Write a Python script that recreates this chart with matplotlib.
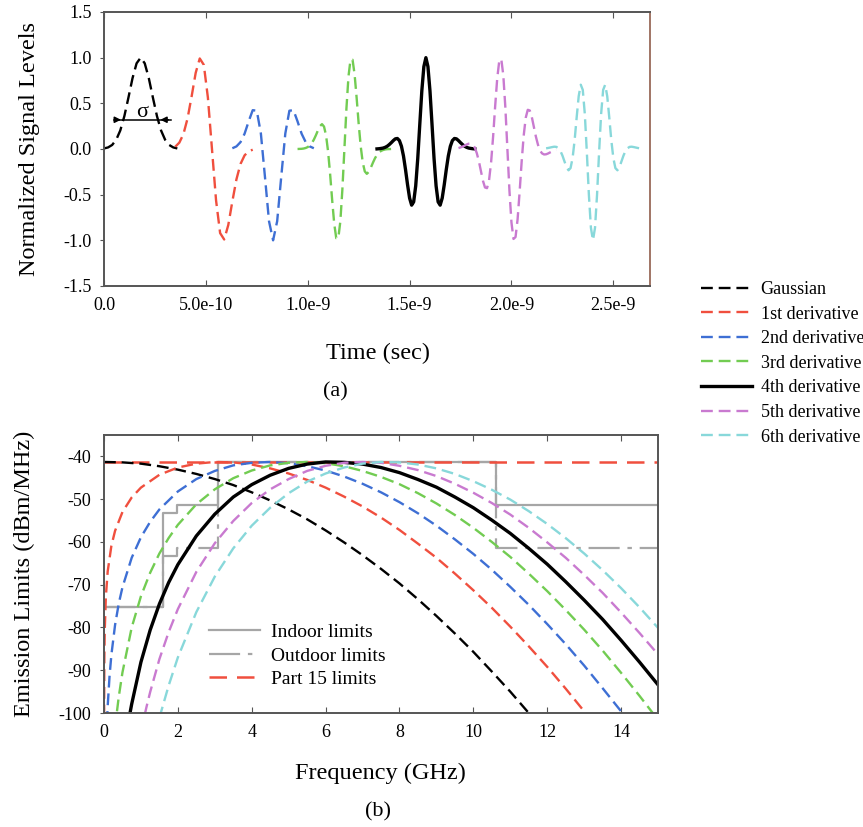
# plot.py - UWB pulse shapes and their spectra against FCC masks

import numpy as np
import matplotlib.pyplot as plt
from matplotlib.lines import Line2D

plt.rcParams['font.family'] = ['Liberation Serif', 'DejaVu Serif']
plt.rcParams['axes.unicode_minus'] = False

# ---------------- (a) time domain, time in ns ----------------
t_gauss = [0.00, 0.02, 0.04, 0.06, 0.08, 0.10, 0.12, 0.14, 0.16, 0.18, 0.20, 0.22, 0.24, 0.26, 0.28,
           0.30, 0.32, 0.34, 0.36]
v_gauss = [0.006, 0.017, 0.044, 0.101, 0.203, 0.360, 0.563, 0.775, 0.938, 1.0, 0.938, 0.775, 0.563,
           0.360, 0.203, 0.101, 0.044, 0.017, 0.006]

t_d1 = [0.35, 0.37, 0.39, 0.41, 0.43, 0.45, 0.47, 0.49, 0.51, 0.53, 0.55, 0.57, 0.59, 0.61, 0.63,
        0.65, 0.67, 0.69, 0.71, 0.73]
v_d1 = [0.025, 0.070, 0.164, 0.333, 0.574, 0.833, 0.991, 0.921, 0.562, 0.0, -0.562, -0.921, -0.991,
        -0.833, -0.574, -0.333, -0.164, -0.070, -0.025, -0.008]

t_d2 = [0.63, 0.65, 0.67, 0.69, 0.71, 0.73, 0.75, 0.77, 0.79, 0.81, 0.83, 0.85, 0.87, 0.89, 0.91,
        0.93, 0.95, 0.97, 0.99, 1.01, 1.03]
v_d2 = [0.008, 0.028, 0.075, 0.167, 0.302, 0.425, 0.419, 0.170, -0.304, -0.791, -1.0, -0.791, -0.304,
        0.170, 0.419, 0.425, 0.302, 0.167, 0.075, 0.028, 0.008]

t_d3 = [0.95, 0.96, 0.97, 0.98, 0.99, 1.00, 1.01, 1.02, 1.03, 1.04, 1.05, 1.06, 1.07, 1.08, 1.09,
        1.10, 1.11, 1.12, 1.13, 1.14, 1.15, 1.16, 1.17, 1.18, 1.19, 1.20, 1.21, 1.22, 1.23, 1.24,
        1.25, 1.26, 1.27, 1.28, 1.29, 1.30, 1.31, 1.32, 1.33, 1.34, 1.35, 1.36, 1.37, 1.38, 1.39,
        1.40, 1.41]
v_d3 = [0.0, 0.001, 0.002, 0.005, 0.011, 0.021, 0.038, 0.064, 0.102, 0.150, 0.203, 0.250, 0.272,
        0.245, 0.148, -0.030, -0.278, -0.561, -0.818, -0.977, -0.978, -0.794, -0.445, 0.0, 0.445,
        0.794, 0.978, 0.977, 0.818, 0.561, 0.278, 0.030, -0.148, -0.245, -0.272, -0.250, -0.203,
        -0.150, -0.102, -0.064, -0.038, -0.021, -0.011, -0.005, -0.002, -0.001, 0.0]

t_d4 = [1.34, 1.35, 1.36, 1.37, 1.38, 1.39, 1.40, 1.41, 1.42, 1.43, 1.44, 1.45, 1.46, 1.47, 1.48,
        1.49, 1.50, 1.51, 1.52, 1.53, 1.54, 1.55, 1.56, 1.57, 1.58, 1.59, 1.60, 1.61, 1.62, 1.63,
        1.64, 1.65, 1.66, 1.67, 1.68, 1.69, 1.70, 1.71, 1.72, 1.73, 1.74, 1.75, 1.76, 1.77, 1.78,
        1.79, 1.80, 1.81, 1.82]
v_d4 = [0.001, 0.003, 0.006, 0.010, 0.018, 0.030, 0.048, 0.069, 0.092, 0.111, 0.115, 0.092, 0.030,
        -0.077, -0.226, -0.392, -0.538, -0.615, -0.579, -0.404, -0.104, 0.270, 0.636, 0.902, 1.0,
        0.902, 0.636, 0.270, -0.104, -0.404, -0.579, -0.615, -0.538, -0.392, -0.226, -0.077, 0.030,
        0.092, 0.115, 0.111, 0.092, 0.069, 0.048, 0.030, 0.018, 0.010, 0.006, 0.003, 0.001]

t_d5 = [1.74, 1.75, 1.76, 1.77, 1.78, 1.79, 1.80, 1.81, 1.82, 1.83, 1.84, 1.85, 1.86, 1.87, 1.88,
        1.89, 1.90, 1.91, 1.92, 1.93, 1.94, 1.95, 1.96, 1.97, 1.98, 1.99, 2.00, 2.01, 2.02, 2.03,
        2.04, 2.05, 2.06, 2.07, 2.08, 2.09, 2.10, 2.11, 2.12, 2.13, 2.14, 2.15, 2.16, 2.17, 2.18,
        2.19, 2.20, 2.21, 2.22]
v_d5 = [0.010, 0.017, 0.026, 0.037, 0.049, 0.058, 0.060, 0.048, 0.015, -0.047, -0.134, -0.241,
        -0.348, -0.421, -0.429, -0.342, -0.146, 0.139, 0.470, 0.771, 0.964, 0.985, 0.806, 0.454, 0.0,
        -0.454, -0.806, -0.985, -0.964, -0.771, -0.470, -0.139, 0.146, 0.342, 0.429, 0.421, 0.348,
        0.241, 0.134, 0.047, -0.015, -0.048, -0.060, -0.058, -0.049, -0.037, -0.026, -0.017, -0.010]

t_d6 = [2.17, 2.18, 2.19, 2.20, 2.21, 2.22, 2.23, 2.24, 2.25, 2.26, 2.27, 2.28, 2.29, 2.30, 2.31,
        2.32, 2.33, 2.34, 2.35, 2.36, 2.37, 2.38, 2.39, 2.40, 2.41, 2.42, 2.43, 2.44, 2.45, 2.46,
        2.47, 2.48, 2.49, 2.50, 2.51, 2.52, 2.53, 2.54, 2.55, 2.56, 2.57, 2.58, 2.59, 2.60, 2.61,
        2.62, 2.63]
v_d6 = [0.007, 0.011, 0.016, 0.021, 0.025, 0.023, 0.009, -0.021, -0.071, -0.135, -0.198, -0.233,
        -0.209, -0.099, 0.096, 0.346, 0.578, 0.704, 0.647, 0.383, -0.039, -0.503, -0.864, -1.0,
        -0.864, -0.503, -0.039, 0.383, 0.647, 0.704, 0.578, 0.346, 0.096, -0.099, -0.209, -0.233,
        -0.198, -0.135, -0.071, -0.021, 0.009, 0.023, 0.025, 0.021, 0.016, 0.011, 0.007]

# ---------------- (b) spectra, frequency in GHz, level in dBm/MHz ----------------
f_gauss = [0, 0.5, 1, 1.5, 2, 2.5, 3, 3.5, 4, 4.5, 5, 5.5, 6, 6.5, 7, 7.5, 8, 8.5, 9, 9.5, 10, 10.5,
           11, 11.5, 12]
s_gauss = [-41.3, -41.4, -41.7, -42.3, -43.1, -44.1, -45.3, -46.7, -48.4, -50.3, -52.4, -54.7, -57.3,
           -60.1, -63.1, -66.3, -69.7, -73.4, -77.3, -81.4, -85.7, -90.3, -95.0, -100.0, -105.2]

f_d1 = [0.002, 0.01, 0.02, 0.05, 0.1, 0.2, 0.3, 0.5, 0.75, 1.0, 1.5, 2, 2.5, 3, 3.5, 4, 4.5, 5, 5.5,
        6, 6.5, 7, 7.5, 8, 8.5, 9, 9.5, 10, 10.5, 11, 11.5, 12, 12.5, 13, 13.5]
s_d1 = [-100.8, -86.9, -80.8, -72.9, -66.9, -60.9, -57.4, -53.0, -49.6, -47.3, -44.3, -42.6, -41.7,
        -41.3, -41.4, -41.9, -42.8, -44.0, -45.5, -47.3, -49.4, -51.7, -54.3, -57.2, -60.4, -63.7,
        -67.4, -71.3, -75.4, -79.8, -84.4, -89.2, -94.3, -99.6, -105.2]

f_d2 = [0.08, 0.1, 0.15, 0.2, 0.3, 0.4, 0.5, 0.75, 1.0, 1.25, 1.5, 2, 2.5, 3, 3.5, 4, 4.5, 5, 5.5,
        6, 6.5, 7, 7.5, 8, 8.5, 9, 9.5, 10, 10.5, 11, 11.5, 12, 12.5, 13, 13.5, 14, 14.5]
s_d2 = [-102.3, -98.4, -91.4, -86.4, -79.4, -74.4, -70.6, -63.7, -58.9, -55.3, -52.4, -48.2, -45.3,
        -43.4, -42.1, -41.5, -41.3, -41.6, -42.3, -43.3, -44.7, -46.4, -48.4, -50.7, -53.3, -56.2,
        -59.4, -62.8, -66.5, -70.5, -74.7, -79.2, -83.9, -88.9, -94.2, -99.6, -105.3]

f_d3 = [0.3, 0.35, 0.4, 0.5, 0.75, 1.0, 1.25, 1.5, 1.75, 2, 2.5, 3, 3.5, 4, 4.5, 5, 5.5, 6, 6.5, 7,
        7.5, 8, 8.5, 9, 9.5, 10, 10.5, 11, 11.5, 12, 12.5, 13, 13.5, 14, 14.5, 15]
s_d3 = [-103.7, -99.7, -96.2, -90.5, -80.0, -72.7, -67.2, -62.7, -59.1, -56.0, -51.2, -47.7, -45.1,
        -43.3, -42.1, -41.5, -41.3, -41.6, -42.3, -43.4, -44.8, -46.5, -48.6, -51.0, -53.7, -56.7,
        -60.0, -63.5, -67.4, -71.5, -75.9, -80.5, -85.4, -90.6, -96.0, -101.6]

f_d4 = [0.7, 0.75, 1.0, 1.25, 1.5, 1.75, 2, 2.5, 3, 3.5, 4, 4.5, 5, 5.5, 6, 6.5, 7, 7.5, 8, 8.5, 9,
        9.5, 10, 10.5, 11, 11.5, 12, 12.5, 13, 13.5, 14, 14.5, 15]
s_d4 = [-100.2, -97.9, -88.1, -80.6, -74.5, -69.5, -65.3, -58.6, -53.5, -49.5, -46.6, -44.4, -42.8,
        -41.8, -41.3, -41.4, -41.8, -42.6, -43.8, -45.4, -47.2, -49.5, -52.0, -54.9, -58.0, -61.5,
        -65.2, -69.3, -73.6, -78.1, -83.0, -88.1, -93.4]

f_d5 = [1.1, 1.15, 1.25, 1.5, 1.75, 2, 2.5, 3, 3.5, 4, 4.5, 5, 5.5, 6, 6.5, 7, 7.5, 8, 8.5, 9, 9.5,
        10, 10.5, 11, 11.5, 12, 12.5, 13, 13.5, 14, 14.5, 15]
s_d5 = [-100.5, -98.6, -95.1, -87.4, -81.1, -75.7, -67.0, -60.3, -55.1, -50.9, -47.7, -45.3, -43.4,
        -42.2, -41.5, -41.3, -41.5, -42.2, -43.2, -44.6, -46.4, -48.5, -50.9, -53.6, -56.7, -60.1,
        -63.7, -67.7, -71.9, -76.5, -81.3, -86.3]

f_d6 = [1.5, 1.55, 1.75, 2, 2.5, 3, 3.5, 4, 4.5, 5, 5.5, 6, 6.5, 7, 7.5, 8, 8.5, 9, 9.5, 10, 10.5,
        11, 11.5, 12, 12.5, 13, 13.5, 14, 14.5, 15]
s_d6 = [-101.2, -99.6, -93.6, -87.0, -76.4, -68.1, -61.5, -56.2, -52.0, -48.6, -45.9, -44.0, -42.6,
        -41.7, -41.3, -41.4, -41.9, -42.8, -44.1, -45.8, -47.8, -50.1, -52.8, -55.8, -59.1, -62.7,
        -66.6, -70.8, -75.3, -80.1]

# FCC masks
f_indoor = [0, 1.61, 1.61, 1.99, 1.99, 3.1, 3.1, 10.6, 10.6, 15]
m_indoor = [-75.3, -75.3, -53.3, -53.3, -51.3, -51.3, -41.3, -41.3, -51.3, -51.3]
f_outdoor = [0, 1.61, 1.61, 1.99, 1.99, 3.1, 3.1, 10.6, 10.6, 15]
m_outdoor = [-75.3, -75.3, -63.3, -63.3, -61.3, -61.3, -41.3, -41.3, -61.3, -61.3]
f_part15 = [0, 15]
m_part15 = [-41.3, -41.3]

labels = ['Gaussian', '1st derivative', '2nd derivative', '3rd derivative',
          '4th derivative', '5th derivative', '6th derivative']
colors = ['black', '#f04f3e', '#3e6fd4', '#72cc52', 'black', '#c97ad0', '#88d8da']
dashed = [True, True, True, True, False, True, True]

pulses = [(t_gauss, v_gauss), (t_d1, v_d1), (t_d2, v_d2), (t_d3, v_d3),
          (t_d4, v_d4), (t_d5, v_d5), (t_d6, v_d6)]
spectra = [(f_gauss, s_gauss), (f_d1, s_d1), (f_d2, s_d2), (f_d3, s_d3),
           (f_d4, s_d4), (f_d5, s_d5), (f_d6, s_d6)]

gray = '#a6a6a6'
outdoor_dash = (14, 3.5, 2, 3.5)

fig = plt.figure(figsize=(8.63, 8.27), dpi=100)
ax1 = fig.add_axes([0.1205, 0.6542, 0.6327, 0.3313])
ax2 = fig.add_axes([0.1205, 0.1378, 0.642, 0.3362])

handles = []
for (t, v), c, d, lab in zip(pulses, colors, dashed, labels):
    if d:
        ln, = ax1.plot(np.array(t) * 1e-9, v, color=c, lw=1.7, dashes=(5, 2.5), label=lab)
    else:
        ln, = ax1.plot(np.array(t) * 1e-9, v, color=c, lw=2.4, label=lab)
    handles.append(ln)

# sigma marker on the Gaussian
ax1.plot([0.05e-9, 0.33e-9], [0.32, 0.32], color='black', lw=1.1)
ax1.annotate('', xy=(0.097e-9, 0.32), xytext=(0.05e-9, 0.32),
             arrowprops=dict(arrowstyle='-|>', color='black', lw=1.1, mutation_scale=9))
ax1.annotate('', xy=(0.263e-9, 0.32), xytext=(0.33e-9, 0.32),
             arrowprops=dict(arrowstyle='-|>', color='black', lw=1.1, mutation_scale=9))
ax1.text(0.187e-9, 0.40, 'σ', fontsize=16, ha='center', va='center')

ax1.set_xlim(0, 2.68e-9)
ax1.set_ylim(-1.5, 1.5)
ax1.set_xticks([0, 0.5e-9, 1.0e-9, 1.5e-9, 2.0e-9, 2.5e-9])
ax1.set_xticklabels(['0.0', '5.0e-10', '1.0e-9', '1.5e-9', '2.0e-9', '2.5e-9'])
ax1.set_yticks([-1.5, -1.0, -0.5, 0.0, 0.5, 1.0, 1.5])
ax1.set_yticklabels(['-1.5', '-1.0', '-0.5', '0.0', '0.5', '1.0', '1.5'])

# spectra
ax2.plot(f_indoor, m_indoor, color=gray, lw=1.6)
ax2.plot(f_outdoor, m_outdoor, color=gray, lw=1.6, dashes=outdoor_dash)
ax2.plot(f_part15, m_part15, color='#f04f3e', lw=1.8, dashes=(7, 4))
for (f, s), c, d in zip(spectra, colors, dashed):
    if d:
        ax2.plot(f, s, color=c, lw=1.7, dashes=(5, 2.5))
    else:
        ax2.plot(f, s, color=c, lw=2.4)

ax2.set_xlim(0, 15)
ax2.set_ylim(-100, -35)
ax2.set_xticks([0, 2, 4, 6, 8, 10, 12, 14])
ax2.set_yticks([-40, -50, -60, -70, -80, -90, -100])
ax2.set_yticklabels(['-40', '-50', '-60', '-70', '-80', '-90', '-100'])

mask_handles = [Line2D([], [], color=gray, lw=1.6),
                Line2D([], [], color=gray, lw=1.6, dashes=outdoor_dash),
                Line2D([], [], color='#f04f3e', lw=1.8, dashes=(7, 4))]
ax2.legend(mask_handles, ['Indoor limits', 'Outdoor limits', 'Part 15 limits'],
           loc='lower left', bbox_to_anchor=(0.19, 0.09), frameon=False, fontsize=14,
           handlelength=2.6, handletextpad=0.6, labelspacing=0.3, borderpad=0, borderaxespad=0)

for ax in (ax1, ax2):
    for sp in ax.spines.values():
        sp.set_color('#555555')
        sp.set_linewidth(1.4)
    ax.tick_params(axis='x', direction='in', top=True, length=4, labelsize=13,
                   color='#555555', pad=8)
    ax.tick_params(axis='y', direction='out', length=3, labelsize=13, color='#555555', pad=6)
ax1.spines['right'].set_color('#a07565')

fig.legend(handles, labels, loc='upper left', bbox_to_anchor=(692 / 863, 1 - 272 / 827),
           frameon=False, fontsize=13, handlelength=2.8, handletextpad=0.5,
           labelspacing=0.42, borderpad=0)

fig.text(378 / 863, 1 - 353 / 827, 'Time (sec)', fontsize=17.5, ha='center', va='center')
fig.text(335 / 863, 1 - 392 / 827, '(a)', fontsize=16, ha='center', va='center')
fig.text(380 / 863, 1 - 773 / 827, 'Frequency (GHz)', fontsize=17.5, ha='center', va='center')
fig.text(378 / 863, 1 - 812 / 827, '(b)', fontsize=16, ha='center', va='center')
fig.text(30 / 863, 1 - 149 / 827, 'Normalized Signal Levels', fontsize=17.5, rotation=90,
         ha='center', va='center')
fig.text(24 / 863, 1 - 574 / 827, 'Emission Limits (dBm/MHz)', fontsize=17.5, rotation=90,
         ha='center', va='center')

fig.savefig('out.png', dpi=100, facecolor='white')
